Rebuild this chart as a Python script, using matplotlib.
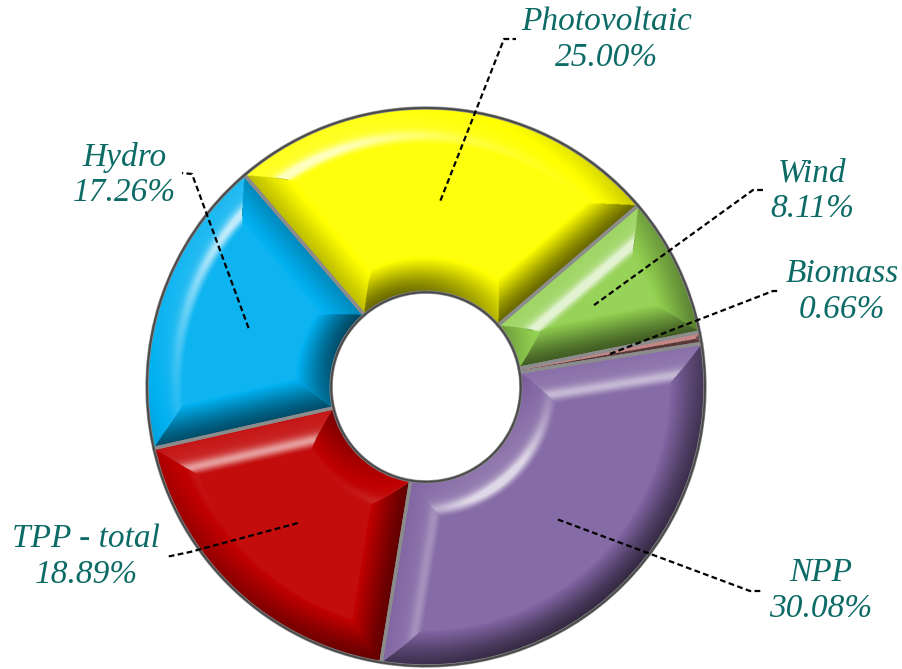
import numpy as np
import matplotlib
matplotlib.use("Agg")
import matplotlib.pyplot as plt

# Electricity generation mix
labels = ["NPP", "TPP - total", "Hydro", "Photovoltaic", "Wind", "Biomass"]
shares = [30.08, 18.89, 17.26, 25.00, 8.11, 0.66]
colors = ["#8064a2", "#c00000", "#00b0f0", "#ffff00", "#92d050", "#c07a78"]

# label block centre and leader-line elbow / end (figure pixels, y down)
label_pos = {
    "NPP": (821, 591), "TPP - total": (86, 557), "Hydro": (124, 175),
    "Photovoltaic": (607, 40), "Wind": (812, 191), "Biomass": (842, 292),
}
leader_pts = {
    "NPP": [(750, 591), (763, 591)],
    "TPP - total": [(190, 552), (166, 557)],
    "Hydro": [(192, 174), (182, 173)],
    "Photovoltaic": [(504, 39), (516, 39)],
    "Wind": [(753, 190), (763, 190)],
    "Biomass": [(773, 291), (779, 291)],
}

W, H = 903, 669
cx, cy, R = 426, 387, 279
hole = 0.34
span = 1.1
text_color = "#0d6b66"

fig = plt.figure(figsize=(W / 100, H / 100), dpi=100)
side = 2 * span * R
ax = fig.add_axes([(cx - span * R) / W, (H - cy - span * R) / H, side / W, side / H])

wedges, _ = ax.pie(shares, radius=1, startangle=9, counterclock=False, colors=colors,
                   wedgeprops=dict(width=1 - hole, linewidth=0, zorder=1))


def px2data(p):
    return ((p[0] - cx) / R, (cy - p[1]) / R)


# bevelled lighting layer for each wedge
n = 900
lim = 1.02
g = np.linspace(-lim, lim, n)
X, Y = np.meshgrid(g, g)
Rr = np.hypot(X, Y)
T = np.degrees(np.arctan2(Y, X))
cT, sT = np.cos(np.radians(T)), np.sin(np.radians(T))
Lv = np.array([-0.45, 0.6, 1.0]); Lv /= np.linalg.norm(Lv)
Hv = Lv + np.array([0, 0, 1.0]); Hv /= np.linalg.norm(Hv)
bevel = 0.13

for w in wedges:
    t1, t2 = w.theta1, w.theta2
    a = (T - t1) % 360
    wid = t2 - t1
    a1 = np.radians(np.clip(a, 0, 90))
    a2 = np.radians(np.clip(wid - a, 0, 90))
    d = np.stack([1 - Rr, Rr - hole, Rr * np.sin(a1), Rr * np.sin(a2)])
    idx = np.argmin(d, axis=0)
    dm = np.min(d, axis=0)
    r1, r2 = np.radians(t1), np.radians(t2)
    nxs = np.stack([cT, -cT, np.full_like(cT, np.sin(r1)), np.full_like(cT, -np.sin(r2))])
    nys = np.stack([sT, -sT, np.full_like(cT, -np.cos(r1)), np.full_like(cT, np.cos(r2))])
    nx = np.take_along_axis(nxs, idx[None], 0)[0]
    ny = np.take_along_axis(nys, idx[None], 0)[0]
    slope = 1.4 * np.clip(1 - dm / bevel, 0, 1) ** 1.1
    N = np.stack([slope * nx, slope * ny, np.ones_like(nx)])
    N /= np.linalg.norm(N, axis=0)
    diff = (N[0] * Lv[0] + N[1] * Lv[1] + N[2] * Lv[2]) / Lv[2] - 1
    spec = np.clip(N[0] * Hv[0] + N[1] * Hv[1] + N[2] * Hv[2], 0, 1) ** 50
    s = 0.6 * diff + 0.8 * spec
    rgba = np.zeros((n, n, 4))
    pos = s > 0
    rgba[pos, :3] = 1.0
    rgba[..., 3] = np.clip(np.abs(s), 0, 0.75)
    im = ax.imshow(rgba, extent=[-lim, lim, -lim, lim], origin="lower",
                   interpolation="bilinear", zorder=2)
    im.set_clip_path(w)

# outlines
ax.pie(shares, radius=1, startangle=9, counterclock=False,
       colors=["none"] * len(shares),
       wedgeprops=dict(width=1 - hole, edgecolor="#8c8c8c", linewidth=2.4, zorder=3))
th = np.linspace(0, 2 * np.pi, 400)
ax.plot(np.cos(th), np.sin(th), color="#4a4a4a", lw=1.4, zorder=4)
ax.plot(hole * np.cos(th), hole * np.sin(th), color="#4a4a4a", lw=1.4, zorder=4)

# labels with dashed leaders
mid_r = (1 + hole) / 2
for w, lab, val in zip(wedges, labels, shares):
    mid = np.radians((w.theta1 + w.theta2) / 2)
    pts = [(mid_r * np.cos(mid), mid_r * np.sin(mid))] + [px2data(p) for p in leader_pts[lab]]
    xs, ys = zip(*pts)
    ax.plot(xs, ys, color="black", lw=1.6, ls=(0, (2.6, 1.5)), zorder=5, clip_on=False)
    tx, ty = px2data(label_pos[lab])
    ax.text(tx, ty, f"{lab}\n{val:.2f}%", ha="center", va="center", multialignment="center",
            fontsize=24, fontstyle="italic", family="Liberation Serif", color=text_color,
            linespacing=1.22, zorder=6, clip_on=False)

ax.set_xlim(-span, span)
ax.set_ylim(-span, span)
ax.set_aspect("equal")
ax.axis("off")

fig.savefig("out.png", dpi=100)
